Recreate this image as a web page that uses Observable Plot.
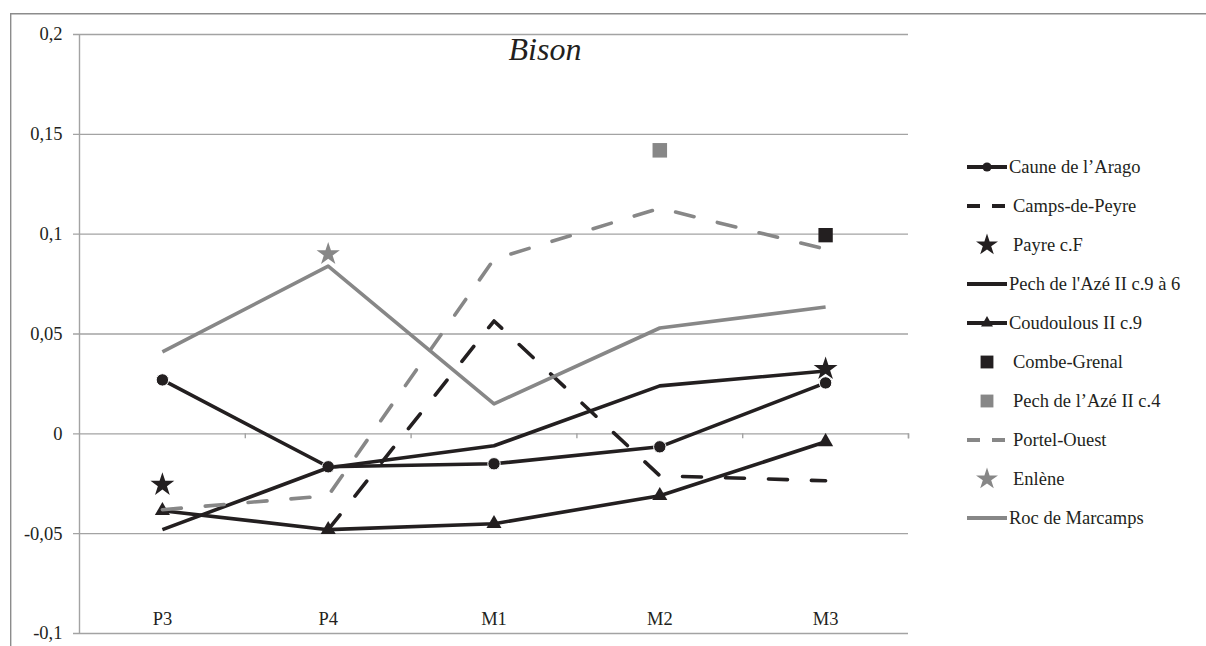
<!DOCTYPE html>
<html>
<head>
<meta charset="utf-8">
<script src="https://cdn.jsdelivr.net/npm/d3@7"></script>
<script src="https://cdn.jsdelivr.net/npm/@observablehq/plot@0.6"></script>
<style>
  body { margin: 0; background: #fff; }
  #wrap { position: relative; width: 1206px; height: 646px; overflow: hidden; background: #fff; }
  #wrap svg { position: absolute; left: 0; top: 0; }
  #overlay { pointer-events: none; }
</style>
</head>
<body>
<div id="wrap"></div>
<script>
// ---------- data ----------
const categories = ["P3", "P4", "M1", "M2", "M3"];
const yTicks = [-0.1, -0.05, 0, 0.05, 0.1, 0.15, 0.2];
const yTickLabels = ["-0,1", "-0,05", "0", "0,05", "0,1", "0,15", "0,2"];
const chartTitle = "Bison";

const seriesNames = [
  "Caune de l\u2019Arago",
  "Camps-de-Peyre",
  "Payre c.F",
  "Pech de l'Az\u00e9 II c.9 \u00e0 6",
  "Coudoulous II c.9",
  "Combe-Grenal",
  "Pech de l\u2019Az\u00e9 II c.4",
  "Portel-Ouest",
  "Enl\u00e8ne",
  "Roc de Marcamps"
];

const cauneArago   = [0.027, -0.0165, -0.015, -0.0065, 0.0255];
const campsDePeyre = [null, -0.048, 0.0565, -0.021, -0.0235];
const payreF       = [-0.0255, null, null, null, 0.0325];
const pechAze96    = [-0.048, -0.017, -0.006, 0.024, 0.0315];
const coudoulous9  = [-0.0385, -0.048, -0.045, -0.031, -0.004];
const combeGrenal  = [null, null, null, null, 0.0995];
const pechAze4     = [null, null, null, 0.142, null];
const portelOuest  = [-0.038, -0.031, 0.0875, 0.113, 0.0925];
const enlene       = [null, 0.09, null, null, null];
const rocMarcamps  = [0.041, 0.084, 0.015, 0.053, 0.0635];

const seriesValues = [cauneArago, campsDePeyre, payreF, pechAze96, coudoulous9,
                      combeGrenal, pechAze4, portelOuest, enlene, rocMarcamps];

// ---------- styles ----------
const BLACK = "#231f20", GRAY = "#878787", GRID = "#a3a3a3";
const FONT = "Liberation Serif, Times New Roman, serif";
const styles = [
  {color: BLACK, line: true,  symbol: "circle",   r: 6.2, dotStroke: "white", lr: 4.6},
  {color: BLACK, line: true,  dash: "19,24"},
  {color: BLACK, line: false, symbol: "star",     r: 7.5, lsize: 150},
  {color: BLACK, line: true},
  {color: BLACK, line: true,  symbol: "triangle", r: 5.6, lsize: 62},
  {color: BLACK, line: false, symbol: "square",   r: 8.1, lsize: 165},
  {color: GRAY,  line: false, symbol: "square",   r: 8.2, lsize: 165},
  {color: GRAY,  line: true,  dash: "19,24"},
  {color: GRAY,  line: false, symbol: "star",     r: 7.3, lsize: 150},
  {color: GRAY,  line: true}
];

// category index domain: band boundaries at half-integers
const xDomain = [-0.5, categories.length - 0.5];
const xBounds = d3.range(0.5, categories.length, 1).concat([categories.length - 0.5]);

const seriesMarks = [];
seriesValues.forEach((vals, s) => {
  const st = styles[s];
  const rows = vals.map((v, j) => ({x: j, y: v}));
  const pts = rows.filter(d => d.y != null);
  if (st.line) {
    seriesMarks.push(Plot.line(rows, {
      x: "x", y: "y", stroke: st.color, strokeWidth: 3.6,
      strokeDasharray: st.dash, strokeLinecap: st.dash ? "round" : "butt",
      strokeLinejoin: "round"
    }));
  }
  if (st.symbol) {
    seriesMarks.push(Plot.dot(pts, {
      x: "x", y: "y", symbol: st.symbol, r: st.r, fill: st.color,
      stroke: st.dotStroke || "none", strokeWidth: st.dotStroke ? 1 : 0
    }));
  }
});

const chart = Plot.plot({
  width: 1206, height: 646,
  marginLeft: 79, marginRight: 298, marginTop: 34, marginBottom: 13,
  x: {type: "linear", domain: xDomain, axis: null},
  y: {domain: [-0.1, 0.2], axis: null},
  style: {fontFamily: FONT, fontSize: "18.5px", color: BLACK, background: "transparent"},
  marks: [
    Plot.gridY(yTicks, {stroke: GRID, strokeOpacity: 1, strokeWidth: 1.4, insetLeft: -6}),
    Plot.ruleX([xDomain[0]], {stroke: GRID, strokeWidth: 1.4}),
    Plot.ruleX(xBounds, {y1: () => 0, y2: () => 0, insetBottom: -5, stroke: GRID, strokeWidth: 1.4}),
    Plot.text(yTicks, {x: () => xDomain[0], y: d => d, dx: -17, textAnchor: "end",
      text: (d, i) => yTickLabels[i], fill: BLACK, fontSize: 18.5, fontFamily: FONT}),
    Plot.text(categories, {x: (d, i) => i, y: () => yTicks[0], dy: -14, text: d => d,
      fill: BLACK, fontSize: 18.5, fontFamily: FONT}),
    ...seriesMarks
  ]
});

const wrap = document.getElementById("wrap");
wrap.appendChild(chart);

// ---------- overlay: frame, title, legend ----------
const ov = d3.select(wrap).append("svg").attr("id", "overlay")
  .attr("width", 1206).attr("height", 646)
  .attr("font-family", FONT);

ov.append("path").attr("d", "M10.7,700V13.7H1300")
  .attr("fill", "none").attr("stroke", "#8c8c8c").attr("stroke-width", 1.4);

ov.append("text").attr("x", 545).attr("y", 60)
  .attr("text-anchor", "middle").attr("font-style", "italic")
  .attr("font-size", 32).attr("fill", BLACK).text(chartTitle);

const lg = ov.append("g");
seriesNames.forEach((name, i) => {
  const st = styles[i];
  const y = 167 + i * 39;
  const g = lg.append("g");
  if (st.line) {
    g.append("line").attr("x1", 967).attr("x2", 1007).attr("y1", y).attr("y2", y)
      .attr("stroke", st.color).attr("stroke-width", 4)
      .attr("stroke-dasharray", st.dash ? "13,12" : null);
  }
  if (st.symbol) {
    const sym = {circle: d3.symbolCircle, star: d3.symbolStar, triangle: d3.symbolTriangle, square: d3.symbolSquare}[st.symbol];
    const size = st.symbol === "circle" ? Math.PI * st.lr * st.lr : st.lsize;
    g.append("path").attr("d", d3.symbol(sym, size)())
      .attr("transform", `translate(987,${y})`).attr("fill", st.color);
  }
  const tx = (st.line && !st.dash) ? 1009 : 1013;
  g.append("text").attr("x", tx).attr("y", y).attr("dy", "0.35em")
    .attr("font-size", 18.5).attr("fill", BLACK).text(name);
});
</script>
</body>
</html>
